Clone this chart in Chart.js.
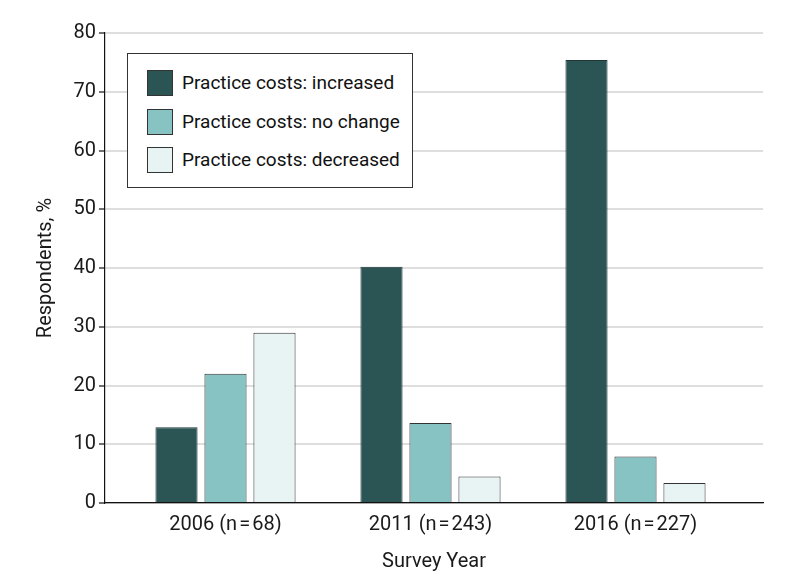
<!DOCTYPE html>
<html>
<head>
<meta charset="utf-8">
<script src="https://cdn.jsdelivr.net/npm/chart.js@4/dist/chart.umd.min.js"></script>
<style>
  html, body { margin: 0; padding: 0; background: #fff; }
  #wrap { position: relative; width: 798px; height: 588px; }
  #legend {
    position: absolute; left: 127px; top: 53px; width: 286px; height: 135px;
    border: 1px solid #333; box-sizing: border-box; background: #fff;
    font-family: 'Roboto', sans-serif; font-size: 19px; color: #111;
  }
  .item { position: absolute; left: 19px; height: 25px; line-height: 25px; white-space: nowrap; }
  .swatch { display: inline-block; width: 24px; height: 24px; border: 1px solid #333; vertical-align: top; margin-right: 9px; }
</style>
</head>
<body>
<div id="wrap">
  <canvas id="bars" width="798" height="588"></canvas>
  <div id="legend"></div>
</div>
<script>
var categories = ['2006 (n\u200a=\u200a68)', '2011 (n\u200a=\u200a243)', '2016 (n\u200a=\u200a227)'];
var seriesNames = ['Practice costs: increased', 'Practice costs: no change', 'Practice costs: decreased'];
var increased = [12.9, 40.2, 75.4];
var noChange = [22.0, 13.6, 7.9];
var decreased = [29.0, 4.5, 3.4];
var yTicks = [0, 10, 20, 30, 40, 50, 60, 70, 80];

var fills = ['#2b5455', '#86c3c2', '#e8f3f4'];
var borders = ['#1f3536', '#333', '#333'];
var fontFamily = "'Roboto', sans-serif";

function points(values) {
    return values.map(function (v, i) { return { x: i, y: v }; });
}

var seriesValues = [increased, noChange, decreased];
var datasets = seriesValues.map(function (vals, k) {
    return {
        label: seriesNames[k],
        data: points(vals),
        backgroundColor: fills[k],
        borderColor: borders[k],
        borderWidth: 1
    };
});

// legend as a boxed block like the original
var legend = document.getElementById('legend');
var tops = [16, 55, 93];
seriesNames.forEach(function (name, k) {
    var item = document.createElement('div');
    item.className = 'item';
    item.style.top = tops[k] + 'px';
    item.innerHTML = '<span class="swatch" style="background:' + fills[k] + '"></span>' + name;
    legend.appendChild(item);
});

Chart.defaults.font.family = fontFamily;
Chart.defaults.color = '#1a1a1a';

var ctx = document.getElementById('bars').getContext('2d');
var chart = new Chart(ctx, {
    type: 'bar',
    data: { datasets: datasets },
    options: {
        responsive: false,
        animation: false,
        categoryPercentage: 0.717,
        barPercentage: 0.86,
        layout: { padding: { left: 0, right: 35, top: 33, bottom: 0 } },
        plugins: {
            legend: { display: false },
            tooltip: { enabled: false }
        },
        scales: {
            x: {
                type: 'linear',
                offset: false,
                min: -0.5878,
                max: 2.622,
                grid: { display: false, drawTicks: false },
                border: { display: true, color: '#111', width: 1.2 },
                afterBuildTicks: function (scale) {
                    scale.ticks = categories.map(function (c, i) { return { value: i }; });
                },
                ticks: {
                    autoSkip: false,
                    maxRotation: 0,
                    padding: 10,
                    font: { size: 20 },
                    color: '#1a1a1a',
                    callback: function (v) { return categories[v]; }
                },
                title: {
                    display: true,
                    text: 'Survey Year',
                    font: { size: 20 },
                    color: '#1a1a1a',
                    padding: { top: 0, bottom: 14 }
                },
                afterFit: function (scale) { scale.height = 85; }
            },
            y: {
                min: 0,
                max: 80,
                afterBuildTicks: function (scale) {
                    scale.ticks = yTicks.map(function (v) { return { value: v }; });
                },
                grid: { color: '#dedede', lineWidth: 2, tickColor: '#111', tickLength: 6, tickWidth: 1.2 },
                border: { display: true, color: '#111', width: 1.2 },
                ticks: { font: { size: 20 }, color: '#1a1a1a', padding: 3 },
                title: {
                    display: true,
                    text: 'Respondents, %',
                    font: { size: 20 },
                    color: '#1a1a1a',
                    padding: { top: 34, bottom: 0 }
                },
                afterFit: function (scale) { scale.width = 105; }
            }
        }
    }
});
</script>
</body>
</html>
